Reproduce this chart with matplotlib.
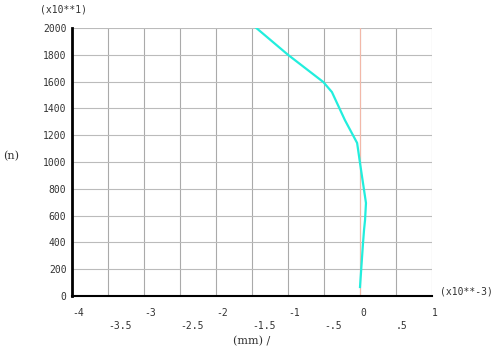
import numpy as np
import matplotlib.pyplot as plt

# curve (x in units of 1e-3 mm, n in units of 10)
x_vals = [-1.44, -1.0, -0.51, -0.39, -0.21, -0.04, 0.0, 0.056, 0.083, 0.07, 0.056, 0.04, 0.0]
n_vals = [2000, 1800, 1597, 1522, 1313, 1142, 993, 791, 694, 567, 493, 381, 67]

x_major = [-4, -3, -2, -1, 0, 1]
x_major_lbl = ["-4", "-3", "-2", "-1", "0", "1"]
x_minor = [-3.5, -2.5, -1.5, -0.5, 0.5]
x_minor_lbl = ["-3.5", "-2.5", "-1.5", "-.5", ".5"]
y_ticks = list(range(0, 2001, 200))

font = "DejaVu Sans Mono"
fs = 7

fig = plt.figure(figsize=(4.96, 3.5), dpi=100)
ax = fig.add_axes([72/496, 54/350, 360/496, 268/350])

ax.set_xlim(-4, 1)
ax.set_ylim(0, 2000)

ax.set_xticks(x_major)
ax.set_xticklabels(x_major_lbl, fontsize=fs, family=font, color="#333333", ha="left")
ax.set_xticks(x_minor, minor=True)
ax.set_xticklabels(x_minor_lbl, minor=True, fontsize=fs, family=font, color="#333333", ha="left")
ax.tick_params(axis="x", which="major", length=0, pad=9)
ax.tick_params(axis="x", which="minor", length=0, pad=18)
ax.set_yticks(y_ticks)
ax.set_yticklabels([str(v) for v in y_ticks], fontsize=fs, family=font, color="#333333")
ax.tick_params(axis="y", length=0, pad=4)

for v in x_major + x_minor:
    ax.axvline(v, color="#aaaaaa", lw=0.8, zorder=0)
for v in y_ticks:
    ax.axhline(v, color="#bbbbbb", lw=0.8, zorder=0)
ax.axvline(0, color="#f2b8a8", lw=0.8, zorder=1)

ax.plot(x_vals, n_vals, color="#22eedd", lw=1.6, zorder=3)

for s in ["top", "right"]:
    ax.spines[s].set_visible(False)
ax.spines["left"].set_linewidth(2)
ax.spines["bottom"].set_linewidth(1.5)

fig.text(40/496, 1 - 9/350, "(x10**1)", fontsize=fs, family=font, va="center", color="#333333")
fig.text(3/496, 1 - 156/350, "(n)", fontsize=fs + 1, family="DejaVu Serif", va="center", color="#333333")
fig.text(440/496, 1 - 292/350, "(x10**-3)", fontsize=fs, family=font, va="center", color="#333333")
fig.text(233/496, 1 - 341/350, "(mm) /", fontsize=fs + 1, family="DejaVu Serif", va="center", color="#333333")

fig.savefig("out.png", dpi=100)
